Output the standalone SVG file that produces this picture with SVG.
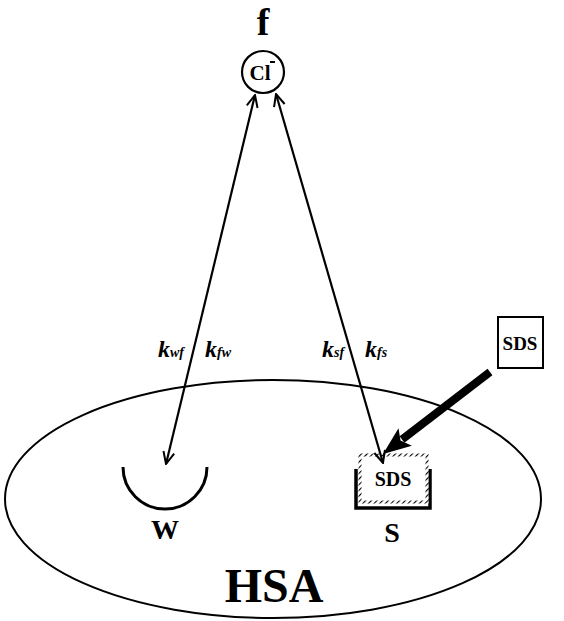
<svg xmlns="http://www.w3.org/2000/svg" width="564" height="621" viewBox="0 0 564 621">
<defs>
<style>
.t{font-family:"Liberation Serif","Times New Roman",serif;font-weight:bold;fill:#000;text-anchor:middle}
.k{font-family:"Liberation Serif","Times New Roman",serif;font-weight:bold;font-style:italic;fill:#000}
.ln{stroke:#000;fill:none}
</style>
<marker id="open" viewBox="0 0 14 14" refX="13" refY="7" markerWidth="14" markerHeight="14" markerUnits="userSpaceOnUse" orient="auto-start-reverse">
<path d="M1,1.5 L13,7 L1,12.5" fill="none" stroke="#000" stroke-width="2"/>
</marker>
<pattern id="hatch" width="4" height="4" patternUnits="userSpaceOnUse" patternTransform="rotate(45)">
<rect width="4" height="4" fill="#fff"/>
<line x1="0" y1="0" x2="0" y2="4" stroke="#000" stroke-width="2.2"/>
</pattern>
</defs>
<g id="HSA">
<ellipse cx="273" cy="499" rx="268" ry="119" class="ln" stroke-width="2"/>
<text x="274" y="602" class="t" font-size="48">HSA</text>
</g>
<g id="f">
<text x="263" y="35" class="t" font-size="38">f</text>
<circle cx="263" cy="72" r="21" class="ln" stroke-width="2.2"/>
<text x="260" y="80" class="t" font-size="21">Cl</text>
<line x1="270" y1="62" x2="275" y2="62" stroke="#000" stroke-width="2"/>
</g>
<g id="W">
<path d="M123,467 A42,42 0 0 0 207,467" class="ln" stroke-width="3"/>
<text x="165" y="539" class="t" font-size="28">W</text>
</g>
<g id="S">
<path d="M356,469 L356,508 L430,508 L430,469" class="ln" stroke-width="3.5"/>
<rect x="360" y="455" width="67" height="47" fill="#fff" stroke="url(#hatch)" stroke-width="3"/>
<text x="393" y="486" class="t" font-size="20">SDS</text>
<text x="392" y="542" class="t" font-size="28">S</text>
</g>
<g id="SDS_free">
<rect x="498" y="317" width="45" height="51" fill="#fff" stroke="#000" stroke-width="2"/>
<text x="520" y="350" class="t" font-size="19">SDS</text>
</g>
<g id="connectors">
<line x1="255" y1="95" x2="166" y2="464" class="ln" stroke-width="2.2" marker-start="url(#open)" marker-end="url(#open)"/>
<line x1="276" y1="94" x2="383" y2="463" class="ln" stroke-width="2.2" marker-start="url(#open)" marker-end="url(#open)"/>
<line x1="490" y1="372" x2="402" y2="439.5" class="ln" stroke-width="8"/>
<path d="M383,454 L411.9,445.7 L400.5,440.6 L398.5,428.3 Z" fill="#000"/>
<text x="158" y="357" class="k" font-size="24">k<tspan font-size="14">wf</tspan></text>
<text x="205" y="357" class="k" font-size="24">k<tspan font-size="14">fw</tspan></text>
<text x="322" y="357" class="k" font-size="24">k<tspan font-size="14">sf</tspan></text>
<text x="365" y="357" class="k" font-size="24">k<tspan font-size="14">fs</tspan></text>
</g>
</svg>
